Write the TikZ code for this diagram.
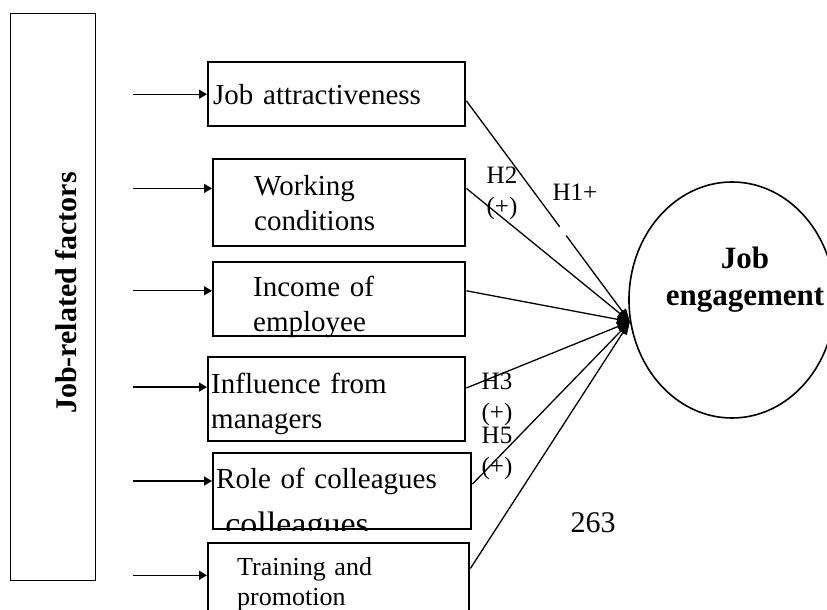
\documentclass[tikz,border=0pt]{standalone}
\usepackage{fontspec}
\setmainfont{Liberation Serif}
\usetikzlibrary{positioning,arrows.meta,shapes.geometric,calc}

\begin{document}
\begin{tikzpicture}[
    x=0.5pt, y=-0.5pt,
    factor/.style={draw, line width=1.2pt, anchor=north west, align=left, inner ysep=0pt, font=\fontsize{14.5}{17.5}\selectfont},
    feed/.style={-{Triangle[length=4pt,width=4.5pt]}, line width=0.65pt},
    link/.style={-{Triangle[length=6.5pt,width=4.5pt]}, line width=0.65pt},
    hyp/.style={font=\fontsize{12.5}{15.5}\selectfont, align=center, inner sep=0pt},
]
\useasboundingbox (0,0) rectangle (827,610);

% grouping bar on the left
\node[draw, line width=0.6pt, anchor=north west, minimum width=42.5pt, minimum height=283.5pt] (group) at (10,13) {};
\node[rotate=90, font=\fontsize{15}{18}\selectfont\bfseries] (grouptitle) at (66,293) {Job-related factors};

% ===== FACTORS =====
\node[factor, minimum width=128.5pt, minimum height=32pt, inner xsep=2.5pt, text width=123.5pt] (attr) at (207,61) {Job attractiveness};
\node[factor, minimum width=126pt, minimum height=43.5pt, inner xsep=20.5pt, text width=85pt] (work) at (212,158) {Working\\conditions};
\node[factor, minimum width=126pt, minimum height=37pt, inner xsep=20pt, text width=86pt, text depth=13pt] (income) at (212,261) {Income of\\employee};
\node[factor, minimum width=128.5pt, minimum height=42pt, inner xsep=1.5pt, text width=125.5pt, text depth=16pt] (mgr) at (207,356) {Influence from\\managers};
\node[factor, minimum width=129pt, minimum height=38pt, inner xsep=1.5pt, text width=126pt, text depth=13pt] (coll) at (212,452) {Role of colleagues};
\node[factor, minimum width=130.5pt, minimum height=41.5pt, inner xsep=14.5pt, text width=101.5pt, font=\fontsize{13}{15}\selectfont] (train) at (207,542) {Training and\\promotion};

% overflowing line, cut off by the box
\begin{scope}
\clip (coll.north west) rectangle (coll.south east);
\node[font=\fontsize{17}{20}\selectfont, anchor=base west, inner sep=0pt] (collover) at (225,536) {colleagues};
\end{scope}

% outcome
\node[ellipse, draw, line width=0.8pt, minimum width=103pt, minimum height=118pt] (eng) at (732,300) {};
\node[font=\fontsize{15.5}{18.5}\selectfont\bfseries, align=center] (engtext) at (745,280) {Job\\engagement};
\coordinate (hub) at (eng.192);

% ===== ARROWS =====
\coordinate (tail) at (133,0);
\foreach \b/\f in {attr/0.5, work/0.34, income/0.39, mgr/0.36, coll/0.37, train/0.39} {
    \coordinate (\b-in) at ($(\b.north west)!\f!(\b.south west)$);
    \draw[feed] (tail |- \b-in) -- (\b-in);
}

\coordinate (attr-out) at ($(attr.north east)!0.6!(attr.south east)$);
\draw[link, -] (attr-out) -- ($(attr-out)!0.57!(hub)$);
\draw[link] ($(attr-out)!0.61!(hub)$) -- (hub);
\foreach \b/\f in {work/0.34, income/0.39, mgr/0.37, coll/0.41, train/0.31}
    \draw[link] ($(\b.north east)!\f!(\b.south east)$) -- (hub);

% hypothesis labels
\node[hyp] (h2) at (502,193) {H2\\(+)};
\node[hyp] (h1) at (575,192) {H1+};
\node[hyp] (h3) at (497,399) {H3\\(+)};
\node[hyp] (h5) at (497,453) {H5\\(+)};
\node[font=\fontsize{15}{18}\selectfont] (page) at (593,523) {263};

\end{tikzpicture}
\end{document}
